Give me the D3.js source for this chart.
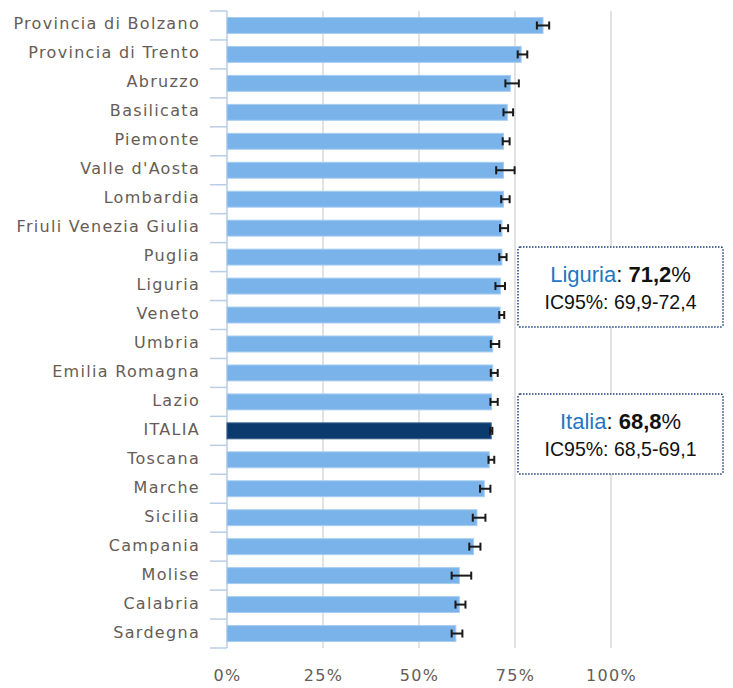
<!DOCTYPE html>
<html>
<head>
<meta charset="utf-8">
<script src="https://cdn.jsdelivr.net/npm/d3@7"></script>
<style>
  body { margin: 0; background: #ffffff; }
  svg { display: block; }
</style>
</head>
<body>
<div id="chart"></div>
<script>
// #Data
const regions = ['Provincia di Bolzano', 'Provincia di Trento', 'Abruzzo', 'Basilicata', 'Piemonte', "Valle d'Aosta", 'Lombardia', 'Friuli Venezia Giulia', 'Puglia', 'Liguria', 'Veneto', 'Umbria', 'Emilia Romagna', 'Lazio', 'ITALIA', 'Toscana', 'Marche', 'Sicilia', 'Campania', 'Molise', 'Calabria', 'Sardegna'];
const values = [82.3, 76.6, 73.8, 73.0, 72.0, 72.0, 72.0, 71.6, 71.6, 71.2, 71.1, 69.2, 69.2, 68.9, 68.8, 68.3, 67.0, 65.1, 64.2, 60.5, 60.5, 59.6];
const ciLow = [80.7, 75.7, 72.5, 72.0, 71.8, 70.1, 71.4, 71.1, 70.9, 69.9, 70.9, 68.7, 68.7, 68.6, 68.5, 68.1, 65.9, 64.0, 63.1, 58.5, 59.5, 58.5];
const ciHigh = [83.9, 78.2, 76.0, 74.5, 73.6, 74.9, 73.6, 73.2, 72.8, 72.4, 72.2, 70.9, 70.5, 70.5, 69.1, 69.6, 68.6, 67.3, 66.0, 63.6, 62.1, 61.3];
const xTicks = [0, 25, 50, 75, 100];

// annotation boxes
const noteNames = ['Liguria', 'Italia'];
const noteValues = ['71,2', '68,8'];
const noteCI = ['IC95%: 69,9-72,4', 'IC95%: 68,5-69,1'];

const w = 733;
const h = 688;
const x0 = 227;
const x1 = 611;
const yTop = 11;
const yBottom = 648;

const data = regions.map((r, i) => ({region: r, value: values[i], lo: ciLow[i], hi: ciHigh[i]}));

const svg = d3.select('#chart')
              .append('svg')
              .attr('width', w)
              .attr('height', h);

const xScale = d3.scaleLinear()
                 .domain([0, 100])
                 .range([x0, x1]);

const yScale = d3.scaleBand()
                 .domain(regions)
                 .range([yTop, yBottom])
                 .paddingInner(0.45)
                 .paddingOuter(0.225);

const step = yScale.step();

// #Grid lines
svg.append('g')
   .selectAll('line')
   .data(xTicks.filter(d => d > 0))
   .enter()
   .append('line')
   .attr('x1', d => xScale(d))
   .attr('x2', d => xScale(d))
   .attr('y1', yTop)
   .attr('y2', yBottom)
   .attr('stroke', '#d9d9d9')
   .attr('stroke-width', 1.5);

// #X axis labels
const xAxis = d3.axisBottom(xScale)
                .tickValues(xTicks)
                .tickSize(0)
                .tickPadding(0)
                .tickFormat(d => d + '%');

const gx = svg.append('g')
              .attr('transform', 'translate(0,' + 670 + ')')
              .call(xAxis);
gx.select('.domain').remove();
gx.selectAll('text')
  .attr('fill', '#665c55')
  .style('font-family', '"DejaVu Sans", Verdana, sans-serif')
  .style('font-size', '16px')
  .style('letter-spacing', '1.3px');

// #Y axis (category ticks on band boundaries)
const gy = svg.append('g');
gy.append('line')
  .attr('x1', x0)
  .attr('x2', x0)
  .attr('y1', yTop)
  .attr('y2', yBottom)
  .attr('stroke', '#b9cde4')
  .attr('stroke-width', 1.5);
gy.selectAll('line.tick')
  .data(d3.range(regions.length + 1))
  .enter()
  .append('line')
  .attr('class', 'tick')
  .attr('x1', 210)
  .attr('x2', x0)
  .attr('y1', i => yTop + i * step)
  .attr('y2', i => yTop + i * step)
  .attr('stroke', '#b9cde4')
  .attr('stroke-width', 1.5);

gy.selectAll('text')
  .data(data)
  .enter()
  .append('text')
  .attr('x', 200)
  .attr('y', d => yScale(d.region) + yScale.bandwidth() / 2 + 4)
  .attr('text-anchor', 'end')
  .attr('fill', '#665c55')
  .style('font-family', '"DejaVu Sans", Verdana, sans-serif')
  .style('font-size', '16px')
  .style('letter-spacing', '1.3px')
  .text(d => d.region);

// #Bars
svg.append('g')
   .selectAll('rect')
   .data(data)
   .enter()
   .append('rect')
   .attr('x', xScale(0))
   .attr('y', d => yScale(d.region))
   .attr('width', d => xScale(d.value) - xScale(0))
   .attr('height', yScale.bandwidth())
   .attr('fill', d => d.region === 'ITALIA' ? '#0b3a6e' : '#7ab3ea')
   .attr('stroke', d => d.region === 'ITALIA' ? '#3a5f8c' : '#a8cdf1')
   .attr('stroke-width', 1);

// #Error bars
const err = svg.append('g')
               .attr('stroke', '#1a1a1a')
               .attr('stroke-width', 2);
data.forEach(d => {
  const cy = yScale(d.region) + yScale.bandwidth() / 2;
  err.append('line')
     .attr('x1', xScale(d.lo))
     .attr('x2', xScale(d.hi))
     .attr('y1', cy)
     .attr('y2', cy);
  [d.lo, d.hi].forEach(v => {
    err.append('line')
       .attr('x1', xScale(v))
       .attr('x2', xScale(v))
       .attr('y1', cy - 4)
       .attr('y2', cy + 4);
  });
});

// #Annotation boxes
const boxTops = [247, 394];
noteNames.forEach((name, i) => {
  const g = svg.append('g')
               .attr('transform', 'translate(518,' + boxTops[i] + ')');
  g.append('rect')
   .attr('width', 205)
   .attr('height', 80)
   .attr('rx', 2)
   .attr('fill', '#ffffff')
   .attr('stroke', '#1f3f80')
   .attr('stroke-width', 1.5)
   .attr('stroke-dasharray', '1.5,1.5');
  const t1 = g.append('text')
              .attr('x', 102.5)
              .attr('y', 35)
              .attr('text-anchor', 'middle')
              .style('font-family', '"Liberation Sans", Arial, sans-serif')
              .style('font-size', '22px')
              .attr('fill', '#111111');
  t1.append('tspan').attr('fill', '#1f77c4').text(name);
  t1.append('tspan').text(': ');
  t1.append('tspan').style('font-weight', 'bold').text(noteValues[i]);
  t1.append('tspan').text('%');
  g.append('text')
   .attr('x', 26.5)
   .attr('y', 62)
   .attr('textLength', 152)
   .attr('lengthAdjust', 'spacingAndGlyphs')
   .style('font-family', '"Liberation Sans", Arial, sans-serif')
   .style('font-size', '21px')
   .attr('fill', '#111111')
   .text(noteCI[i]);
});
</script>
</body>
</html>
